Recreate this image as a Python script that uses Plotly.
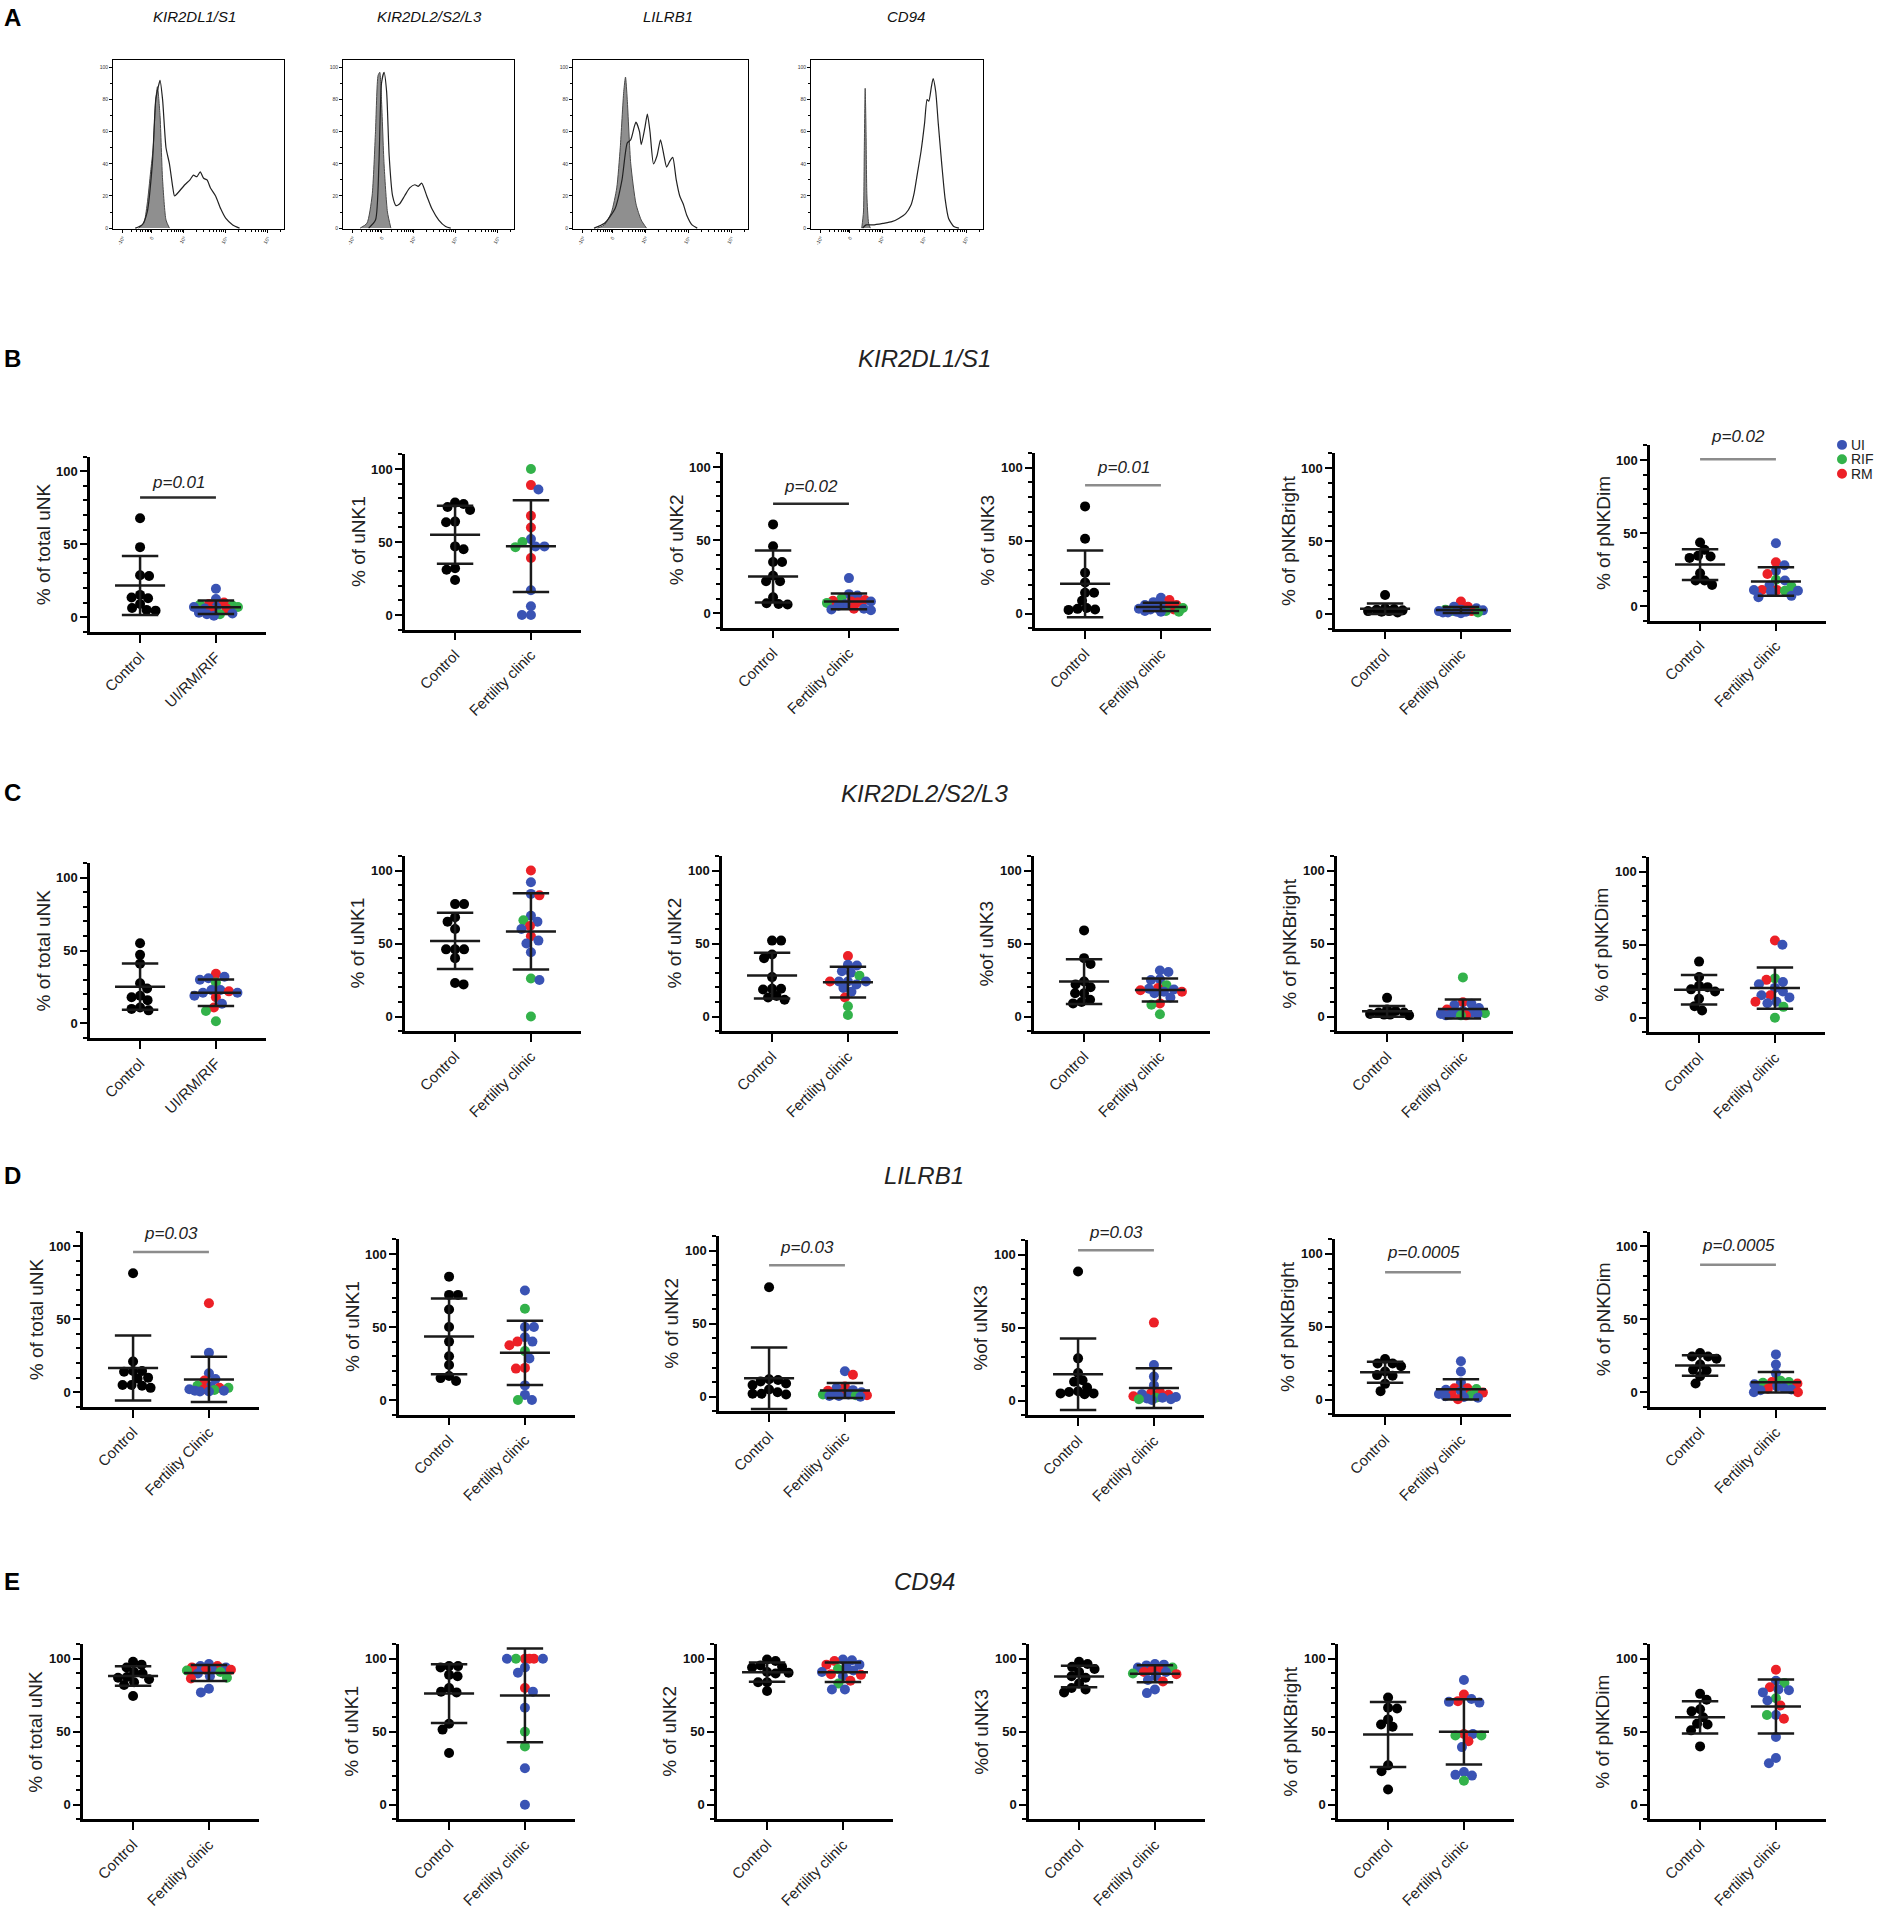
import math
import numpy as np
import plotly.graph_objects as go

W, H = 1877, 1909
FONT = "Arial, 'Liberation Sans', Helvetica, sans-serif"
BLUE, GREEN, RED = "#3a53b4", "#33b24a", "#ec2027"
GCOL = {"UI": BLUE, "RIF": GREEN, "RM": RED}
U, F, M = "UI", "RIF", "RM"

# ---------------- Panel A : flow histograms ----------------
HIST_TITLES = ["KIR2DL1/S1", "KIR2DL2/S2/L3", "LILRB1", "CD94"]
HIST_XTICK_POS = [0.057, 0.226, 0.415, 0.66, 0.906]
HIST_XTICK_TEXT = ["-10³", "0", "10³", "10⁴", "10⁵"]
HIST_YTICKS = [0, 20, 40, 60, 80, 100]

H1_iso_x = [0.15, 0.18, 0.20, 0.22, 0.235, 0.25, 0.26, 0.275, 0.29, 0.31, 0.33]
H1_iso_y = [0, 3, 15, 35, 50, 80, 88, 70, 30, 5, 0]
H1_stain_x = [0.13, 0.17, 0.20, 0.23, 0.25, 0.265, 0.275, 0.29, 0.31, 0.33, 0.35, 0.36, 0.38, 0.42,
              0.45, 0.47, 0.49, 0.51, 0.53, 0.55, 0.57, 0.60, 0.63, 0.66, 0.70, 0.74]
H1_stain_y = [0, 2, 10, 40, 80, 88, 92, 80, 50, 40, 25, 20, 22, 27, 30, 33, 32, 35, 31, 30, 25, 20,
              12, 6, 2, 0]

H2_iso_x = [0.10, 0.14, 0.17, 0.19, 0.205, 0.215, 0.225, 0.24, 0.26, 0.28]
H2_iso_y = [0, 3, 20, 60, 95, 97, 80, 40, 10, 0]
H2_stain_x = [0.15, 0.19, 0.21, 0.225, 0.24, 0.255, 0.27, 0.29, 0.31, 0.33, 0.36, 0.39, 0.42, 0.44,
              0.46, 0.49, 0.52, 0.56, 0.60, 0.63]
H2_stain_y = [0, 5, 40, 90, 97, 85, 45, 20, 14, 15, 20, 25, 27, 26, 28, 20, 12, 5, 1, 0]

H3_iso_x = [0.14, 0.18, 0.22, 0.25, 0.27, 0.29, 0.30, 0.31, 0.33, 0.36, 0.39, 0.42]
H3_iso_y = [0, 2, 10, 25, 50, 85, 94, 80, 40, 15, 5, 0]
H3_stain_x = [0.12, 0.18, 0.24, 0.28, 0.31, 0.33, 0.35, 0.36, 0.38, 0.39, 0.41, 0.425, 0.44, 0.46,
              0.48, 0.50, 0.52, 0.535, 0.555, 0.57, 0.59, 0.61, 0.63, 0.65, 0.68, 0.71]
H3_stain_y = [0, 3, 12, 30, 53, 55, 63, 66, 60, 52, 62, 71, 60, 40, 45, 55, 45, 38, 42, 44, 30, 20,
              15, 8, 2, 0]

H4_iso_x = [0.295, 0.305, 0.31, 0.315, 0.32, 0.325, 0.335, 0.345]
H4_iso_y = [0, 10, 50, 87, 60, 20, 3, 0]
H4_stain_x = [0.30, 0.32, 0.36, 0.42, 0.47, 0.51, 0.55, 0.58, 0.60, 0.62, 0.64, 0.66, 0.675, 0.685,
              0.70, 0.71, 0.725, 0.74, 0.76, 0.78, 0.80, 0.83, 0.86]
H4_stain_y = [0, 2, 2, 3, 4, 6, 9, 14, 22, 35, 48, 65, 80, 79, 88, 93, 85, 65, 40, 18, 6, 1, 0]

HIST_ISO = [(H1_iso_x, H1_iso_y), (H2_iso_x, H2_iso_y), (H3_iso_x, H3_iso_y), (H4_iso_x, H4_iso_y)]
HIST_STAIN = [(H1_stain_x, H1_stain_y), (H2_stain_x, H2_stain_y), (H3_stain_x, H3_stain_y),
              (H4_stain_x, H4_stain_y)]

# ---------------- Panels B-E : scatter dot plots ----------------
ROW_LETTERS = ["B", "C", "D", "E"]
ROW_TITLES = ["KIR2DL1/S1", "KIR2DL2/S2/L3", "LILRB1", "CD94"]
YTITLES = [
    ["% of total uNK", "% of uNK1", "% of uNK2", "% of uNK3", "% of pNKBright", "% of pNKDim"],
    ["% of total uNK", "% of uNK1", "% of uNK2", "%of uNK3", "% of pNKBright", "% of pNKDim"],
    ["% of total uNK", "% of uNK1", "% of uNK2", "%of uNK3", "% of pNKBright", "% of pNKDim"],
    ["% of total uNK", "% of uNK1", "% of uNK2", "%of uNK3", "% of pNKBright", "% of pNKDim"],
]
CATS_DEFAULT = ["Control", "Fertility clinic"]
CATS_FIRST = [["Control", "UI/RM/RIF"], ["Control", "UI/RM/RIF"],
              ["Control", "Fertility Clinic"], ["Control", "Fertility clinic"]]

# Row B : KIR2DL1/S1
B_tot_ctrl = [67.8, 48, 28.2, 28.8, 13, 13.5, 15.3, 9, 5, 4.5, 6.3]
B_tot_fert = [19.5, 12.5, 10, 9, 8.5, 8, 7, 7, 7, 6, 6, 5, 3, 2.5, 2, 2, 1]
B_tot_grp = [U, U, M, M, F, F, U, U, F, M, U, M, U, U, F, U, U]
B_unk1_ctrl = [77, 76, 74, 72, 64, 63.5, 47, 45, 32, 31, 24]
B_unk1_fert = [100, 89, 86, 68, 60, 52, 50, 47, 47, 46.5, 39, 17, 6, 0, 0]
B_unk1_grp = [F, M, U, M, M, U, F, U, U, F, M, U, U, U, U]
B_unk2_ctrl = [60.8, 45.8, 35, 35, 25.6, 21.8, 21.8, 10.9, 5.9, 6.3, 6.8]
B_unk2_fert = [24, 13, 12, 10, 9, 8.5, 8, 8, 7.5, 7, 6, 5, 3, 3, 2.5, 2]
B_unk2_grp = [U, U, U, F, M, M, M, U, M, F, U, U, U, M, U, U]
B_unk3_ctrl = [73.6, 51.4, 28.2, 21.4, 14.5, 14.5, 9, 4, 3.4, 2.7, 3]
B_unk3_fert = [11, 9.5, 8, 6, 6, 5.5, 5, 4, 4, 3.5, 3, 3, 2, 2, 1.5, 1.5]
B_unk3_grp = [U, M, U, M, U, U, M, U, F, U, U, M, F, U, F, U]
B_pbr_ctrl = [13, 4, 3.5, 3, 2.5, 2, 2, 1.5, 1]
B_pbr_fert = [8.5, 5, 5, 4, 3, 3, 2.5, 2, 2, 2, 1.5, 1.5, 1, 1, 1, 0.5]
B_pbr_grp = [M, M, U, U, F, U, U, U, M, F, U, U, F, U, U, U]
B_pdim_ctrl = [43.5, 38.5, 34, 33, 34.5, 22.5, 14.5, 17.5, 17.5]
B_pdim_fert = [43, 30, 28, 24, 22, 18, 17.5, 14, 13.5, 11, 11, 11, 10.5, 10.5, 10, 7, 6]
B_pdim_grp = [U, M, U, U, M, F, U, U, F, M, M, U, F, U, U, U, U]

# Row C : KIR2DL2/S2/L3
C_tot_ctrl = [55, 47, 41, 27.5, 24, 19, 18, 16, 11, 10, 9]
C_tot_fert = [34, 32, 31, 30, 28, 23, 23, 22, 21, 21, 19, 18, 13.5, 11, 8.5, 1.5]
C_tot_grp = [M, U, U, U, F, U, U, M, U, U, U, M, U, M, F, F]
C_unk1_ctrl = [77, 77, 68, 65, 60, 46, 46, 46, 40, 23, 22]
C_unk1_fert = [100, 92, 84, 83, 69, 66, 65, 62, 60, 55, 52, 50, 44, 26, 25, 0]
C_unk1_grp = [M, U, U, M, U, F, U, M, U, M, U, U, U, F, U, F]
C_unk2_ctrl = [52, 52, 42.5, 40, 27, 19, 19, 18.5, 14, 11.5, 13]
C_unk2_fert = [41.5, 35.5, 35, 31, 30, 28, 24, 24, 24, 24, 22, 19.5, 17, 13, 7, 1]
C_unk2_grp = [M, U, U, U, U, F, U, U, M, U, U, U, U, M, F, F]
C_unk3_ctrl = [59, 40, 36, 24, 22, 20, 16, 16, 11.5, 10, 9]
C_unk3_fert = [31.5, 30.5, 25.5, 25, 21.5, 19.5, 19, 18.5, 18, 17, 17, 16, 13, 9, 8, 1.5]
C_unk3_grp = [U, U, U, U, F, M, U, U, M, M, U, U, U, M, F, F]
C_pbr_ctrl = [13, 5, 4, 3, 3, 2, 1.5, 1.5, 1]
C_pbr_fert = [27, 10, 9, 8, 6, 5, 4, 3, 3, 2.5, 2, 2, 1.5, 1, 1, 1]
C_pbr_grp = [F, M, U, U, U, M, U, U, U, F, U, U, U, M, F, U]
C_pdim_ctrl = [38.5, 28, 22, 21, 19.5, 18, 13, 8, 5]
C_pdim_fert = [53, 50, 27, 26, 24.5, 23, 20.5, 18, 15.5, 15.5, 14, 11, 11, 10, 7.5, 0]
C_pdim_grp = [M, U, F, M, U, U, U, U, M, U, U, U, M, U, F, F]

# Row D : LILRB1
D_tot_ctrl = [81.5, 21, 14.5, 14.5, 14, 10, 9.5, 5, 5, 4.5, 3]
D_tot_fert = [61, 27, 13, 9, 8, 4.5, 4, 3, 3, 2, 2, 1.5, 1, 1, 0.5, 0.5]
D_tot_grp = [M, U, U, U, M, F, U, M, F, U, M, F, U, U, U, U]
D_unk1_ctrl = [84.5, 72, 72, 62, 50, 40, 30, 24, 16.5, 15, 13]
D_unk1_fert = [75, 62.5, 50, 50, 43, 40, 40, 37.5, 33.5, 28.5, 22, 21.5, 10, 3.5, 0, 0]
D_unk1_grp = [U, F, U, U, U, M, U, M, F, U, M, M, U, U, U, F]
D_unk2_ctrl = [75, 12, 11.5, 10.5, 9, 8, 5, 3, 2, 2, 1.5]
D_unk2_fert = [17.5, 15, 7, 6, 4.5, 4, 3, 2.5, 2, 1.5, 1.5, 1, 1, 0.5, 0.5, 0]
D_unk2_grp = [U, M, M, U, U, M, U, M, U, U, F, F, M, U, U, U]
D_unk3_ctrl = [88.5, 29, 19, 14, 13, 9, 6.5, 6, 5, 5, 4.5]
D_unk3_fert = [53.5, 24.5, 16.5, 10.5, 6, 5, 4.5, 4, 3, 2.5, 2, 2, 1.5, 1, 1, 0.5]
D_unk3_grp = [M, U, U, U, M, M, U, M, M, U, F, U, U, F, U, U]
D_pbr_ctrl = [28, 25, 25, 23, 19.5, 17, 16.5, 11, 6]
D_pbr_fert = [26.5, 19.5, 12, 8, 8, 7.5, 7, 6, 5, 4, 3, 3, 2.5, 2, 1.5, 0.5]
D_pbr_grp = [U, U, U, M, M, F, U, U, M, U, F, M, U, U, U, M]
D_pdim_ctrl = [27, 24.5, 24.5, 23, 19, 15.5, 15, 11, 6]
D_pdim_fert = [26, 19, 13, 8, 7, 7, 6.5, 6, 5.5, 4, 3, 2.5, 2, 1.5, 0, 0]
D_pdim_grp = [U, U, U, F, M, F, F, M, U, U, U, M, U, U, M, U]

# Row E : CD94
E_tot_ctrl = [98, 96, 94, 91, 90, 87.5, 87, 86, 84, 82, 74.5]
E_tot_fert = [96.5, 95, 95, 94, 94, 93, 92.5, 92.5, 92, 91, 90, 88, 87, 86.5, 79.5, 77]
E_tot_grp = [U, M, U, U, M, U, M, M, F, F, U, U, F, M, U, U]
E_unk1_ctrl = [95, 95, 94, 89, 88, 80, 77.5, 77, 55.5, 51.5, 35.5]
E_unk1_fert = [100, 100, 100, 100, 100, 100, 94, 90.5, 80, 77.5, 66.5, 50, 40, 25, 0]
E_unk1_grp = [M, M, F, U, U, M, U, U, M, U, U, F, F, U, U]
E_unk2_ctrl = [99.5, 98.5, 95.5, 94.5, 94, 91, 90.5, 90, 84, 84, 78]
E_unk2_fert = [99.5, 99, 98.5, 96, 96, 94.5, 93, 92, 91, 89.5, 89, 88, 85, 83, 79, 79]
E_unk2_grp = [U, U, M, U, M, U, F, U, U, M, M, U, M, F, U, U]
E_unk3_ctrl = [98, 96.5, 94.5, 93, 91, 88, 87, 83, 80, 79, 77]
E_unk3_fert = [96.5, 96, 95.5, 94, 94, 92.5, 92, 91, 91, 90, 89.5, 88, 85.5, 84.5, 79, 76.5]
E_unk3_grp = [U, U, U, U, F, M, M, U, M, F, M, U, U, M, U, U]
E_pbr_ctrl = [73.5, 66.5, 66, 58.5, 55, 53.5, 27, 23, 10.5]
E_pbr_fert = [85.5, 75.5, 72.5, 71, 70.5, 70, 48.5, 48.5, 47.5, 47.5, 43.5, 39.5, 22.5, 20.5, 20, 16.5]
E_pbr_grp = [U, M, U, M, U, U, M, U, F, F, M, U, U, U, U, F]
E_pdim_ctrl = [76, 72, 65.5, 64, 60, 55.5, 55, 51, 40]
E_pdim_fert = [92.5, 85, 83.5, 80.5, 79, 78.5, 77, 73, 71.5, 68, 61.5, 61.5, 59, 46.5, 32, 28.5]
E_pdim_grp = [M, U, F, M, U, U, U, F, U, M, U, F, M, U, U, U]

CTRL = [[B_tot_ctrl, B_unk1_ctrl, B_unk2_ctrl, B_unk3_ctrl, B_pbr_ctrl, B_pdim_ctrl],
        [C_tot_ctrl, C_unk1_ctrl, C_unk2_ctrl, C_unk3_ctrl, C_pbr_ctrl, C_pdim_ctrl],
        [D_tot_ctrl, D_unk1_ctrl, D_unk2_ctrl, D_unk3_ctrl, D_pbr_ctrl, D_pdim_ctrl],
        [E_tot_ctrl, E_unk1_ctrl, E_unk2_ctrl, E_unk3_ctrl, E_pbr_ctrl, E_pdim_ctrl]]
FERT = [[B_tot_fert, B_unk1_fert, B_unk2_fert, B_unk3_fert, B_pbr_fert, B_pdim_fert],
        [C_tot_fert, C_unk1_fert, C_unk2_fert, C_unk3_fert, C_pbr_fert, C_pdim_fert],
        [D_tot_fert, D_unk1_fert, D_unk2_fert, D_unk3_fert, D_pbr_fert, D_pdim_fert],
        [E_tot_fert, E_unk1_fert, E_unk2_fert, E_unk3_fert, E_pbr_fert, E_pdim_fert]]
GRPS = [[B_tot_grp, B_unk1_grp, B_unk2_grp, B_unk3_grp, B_pbr_grp, B_pdim_grp],
        [C_tot_grp, C_unk1_grp, C_unk2_grp, C_unk3_grp, C_pbr_grp, C_pdim_grp],
        [D_tot_grp, D_unk1_grp, D_unk2_grp, D_unk3_grp, D_pbr_grp, D_pdim_grp],
        [E_tot_grp, E_unk1_grp, E_unk2_grp, E_unk3_grp, E_pbr_grp, E_pdim_grp]]

# significance annotations: (row, col) -> (text, bar value, text value, bar colour)
PVALS = {
    (0, 0): ("p=0.01", 82, 92.5, "#2a2a2a"),
    (0, 2): ("p=0.02", 75, 87, "#2a2a2a"),
    (0, 3): ("p=0.01", 88, 100, "#8c8c8c"),
    (0, 5): ("p=0.02", 100.5, 116.5, "#8c8c8c"),
    (2, 0): ("p=0.03", 96, 108.5, "#8c8c8c"),
    (2, 2): ("p=0.03", 90, 102, "#8c8c8c"),
    (2, 3): ("p=0.03", 103, 115.5, "#8c8c8c"),
    (2, 4): ("p=0.0005", 87.4, 101, "#8c8c8c"),
    (2, 5): ("p=0.0005", 87.4, 100.5, "#8c8c8c"),
}

# ---------------- layout geometry (pixels) ----------------
COL_X = [[90, 405, 723, 1035, 1335, 1650],
         [90, 405, 722, 1034, 1337, 1649],
         [83, 399, 719, 1028, 1335, 1650],
         [83, 399, 717, 1029, 1338, 1650]]
ROW_BOTTOM = [[634.8, 632.6, 630.7, 631.4, 631.6, 623.6],
              [1043, 1036, 1036, 1036, 1036.3, 1037.3],
              [1413.5, 1421.3, 1418, 1422, 1421.2, 1413.6],
              [1828, 1828, 1828, 1828, 1828, 1828]]
PW, PH = 176, 176
XR = [-0.66, 1.66]
YR = [-10, 110]
HIST_X = [(113, 284), (343, 514), (573, 748), (811, 983)]
HIST_Y = (60, 230)
HIST_TITLE_X = [194, 429, 668, 906]


def px_x(p):
    return p / W


def px_y(p):
    return 1 - p / H


def swarm(vals, sx, sy, d=8.6, step=0.5, maxoff=22.0):
    """Spread points sideways (pixels) so that they overlap little, within +/- maxoff."""
    order = sorted(range(len(vals)), key=lambda i: -vals[i])
    placed = []
    out = [0.0] * len(vals)
    n = int(maxoff / step)
    for i in order:
        yv = vals[i] * sy
        pos = sum(1 for p in placed if p[0] > 0.1)
        neg = sum(1 for p in placed if p[0] < -0.1)
        sgn = 1 if pos <= neg else -1
        cands = [0.0]
        for k in range(1, n + 1):
            cands += [sgn * k * step, -sgn * k * step]
        best, bestd = 0.0, -1.0
        for c in cands:
            md = min((math.hypot(c - a, yv - b) for a, b in placed), default=1e9)
            if md >= d:
                best = c
                break
            if md > bestd + 0.3:
                bestd, best = md, c
        placed.append((best, yv))
        out[i] = best / sx
    return out


fig = go.Figure()
layout = {}
annotations = []
shapes = []
axn = 0


def axnames(n):
    return ("x" if n == 1 else f"x{n}", "y" if n == 1 else f"y{n}",
            "xaxis" if n == 1 else f"xaxis{n}", "yaxis" if n == 1 else f"yaxis{n}")


# ---- scatter panels ----
sx = PW / (XR[1] - XR[0])
sy = PH / (YR[1] - YR[0])
for r in range(4):
    for c in range(6):
        axn += 1
        xa, ya, xk, yk = axnames(axn)
        x0 = COL_X[r][c]
        yb = ROW_BOTTOM[r][c]
        cats = CATS_FIRST[r] if c == 0 else CATS_DEFAULT
        layout[xk] = dict(
            domain=[px_x(x0), px_x(x0 + PW)], anchor=ya, range=XR,
            tickmode="array", tickvals=[0, 1], ticktext=cats, tickangle=-45,
            ticks="outside", ticklen=8, tickwidth=2, tickcolor="black",
            showline=True, linewidth=2.5, linecolor="black",
            showgrid=False, zeroline=False, fixedrange=True,
            tickfont=dict(family=FONT, size=15, color="#222"),
        )
        layout[yk] = dict(
            domain=[px_y(yb), px_y(yb - PH)], anchor=xa, range=YR,
            tickmode="array", tickvals=[0, 50, 100],
            ticks="outside", ticklen=7, tickwidth=2, tickcolor="black",
            showline=True, linewidth=2.5, linecolor="black",
            showgrid=False, zeroline=False, fixedrange=True,
            tickfont=dict(family=FONT, size=13, color="#111", weight="bold"),
            minor=dict(tickmode="array", tickvals=list(range(-10, 111, 10)),
                       ticks="outside", ticklen=4, tickwidth=1.5, tickcolor="black"),
        )
        ctrl = CTRL[r][c]
        fert = FERT[r][c]
        grp = GRPS[r][c]
        oc = swarm(ctrl, sx, sy)
        of = swarm(fert, sx, sy)
        fig.add_trace(go.Scatter(
            x=[0 + o for o in oc], y=ctrl, mode="markers", xaxis=xa, yaxis=ya,
            marker=dict(size=10, color="black", line=dict(width=0)),
            showlegend=False, hoverinfo="skip", cliponaxis=False))
        fig.add_trace(go.Scatter(
            x=[1 + o for o in of], y=fert, mode="markers", xaxis=xa, yaxis=ya,
            marker=dict(size=10, color=[GCOL[g] for g in grp], line=dict(width=0)),
            showlegend=False, hoverinfo="skip", cliponaxis=False))
        # mean +/- SD
        lx, ly = [], []
        for cx, vals in ((0, ctrl), (1, fert)):
            m = float(np.mean(vals))
            s = float(np.std(vals, ddof=1))
            lx += [cx - 0.33, cx + 0.33, None, cx, cx, None,
                   cx - 0.24, cx + 0.24, None, cx - 0.24, cx + 0.24, None]
            ly += [m, m, None, m - s, m + s, None, m + s, m + s, None, m - s, m - s, None]
        fig.add_trace(go.Scatter(
            x=lx, y=ly, mode="lines", xaxis=xa, yaxis=ya,
            line=dict(color="#1a1a1a", width=2.5), showlegend=False, hoverinfo="skip"))
        # significance bar
        if (r, c) in PVALS:
            txt, bar_v, txt_v, bcol = PVALS[(r, c)]
            fig.add_trace(go.Scatter(
                x=[0, 1], y=[bar_v, bar_v], mode="lines", xaxis=xa, yaxis=ya,
                line=dict(color=bcol, width=2.5), showlegend=False, hoverinfo="skip"))
            ty = yb - (txt_v - YR[0]) * sy
            annotations.append(dict(
                x=px_x(x0 + (0.5 - XR[0]) * sx), y=px_y(ty), xref="paper", yref="paper",
                text=f"<i>{txt}</i>", showarrow=False,
                font=dict(family=FONT, size=17, color="#222"), xanchor="center", yanchor="middle"))
        # y-axis title
        annotations.append(dict(
            x=px_x(x0 - 47), y=px_y(yb - PH / 2), xref="paper", yref="paper",
            text=YTITLES[r][c], textangle=-90, showarrow=False,
            font=dict(family=FONT, size=19, color="#222"), xanchor="center", yanchor="middle"))

# ---- histogram panels ----
minor_x = []
for a, b in ((0.057, 0.226), (0.226, 0.415)):
    for m in range(2, 10):
        minor_x.append(a + (b - a) * np.log10(m))
for p in (0.415, 0.66, 0.906):
    for m in range(2, 10):
        v = p + 0.245 * np.log10(m)
        if v < 1:
            minor_x.append(float(v))

for k in range(4):
    axn += 1
    xa, ya, xk, yk = axnames(axn)
    x0, x1 = HIST_X[k]
    layout[xk] = dict(
        domain=[px_x(x0), px_x(x1)], anchor=ya, range=[0, 1],
        tickmode="array", tickvals=HIST_XTICK_POS, ticktext=HIST_XTICK_TEXT, tickangle=-60,
        ticks="outside", ticklen=3, tickwidth=1, tickcolor="black",
        showline=True, mirror=True, linewidth=1.3, linecolor="black",
        showgrid=False, zeroline=False, fixedrange=True,
        tickfont=dict(family=FONT, size=5, color="#333"),
        minor=dict(tickmode="array", tickvals=minor_x, ticks="outside", ticklen=2,
                   tickwidth=0.8, tickcolor="black"),
    )
    layout[yk] = dict(
        domain=[px_y(HIST_Y[1]), px_y(HIST_Y[0])], anchor=xa, range=[-0.5, 104.8],
        tickmode="array", tickvals=HIST_YTICKS,
        ticks="outside", ticklen=3, tickwidth=1, tickcolor="black",
        showline=True, mirror=True, linewidth=1, linecolor="black",
        showgrid=False, zeroline=False, fixedrange=True,
        tickfont=dict(family=FONT, size=5, color="#333"),
        minor=dict(tickmode="array", tickvals=list(range(0, 101, 10)), ticks="outside",
                   ticklen=2, tickwidth=0.8, tickcolor="black"),
    )
    ix, iy = HIST_ISO[k]
    stx, sty = HIST_STAIN[k]
    fig.add_trace(go.Scatter(
        x=ix, y=iy, mode="lines", fill="tozeroy", fillcolor="#8f8f8f",
        line=dict(color="#4a4a4a", width=1, shape="spline", smoothing=0.6),
        xaxis=xa, yaxis=ya, showlegend=False, hoverinfo="skip"))
    fig.add_trace(go.Scatter(
        x=stx, y=sty, mode="lines",
        line=dict(color="#222", width=1.2, shape="spline", smoothing=0.6),
        xaxis=xa, yaxis=ya, showlegend=False, hoverinfo="skip"))
    annotations.append(dict(
        x=px_x(HIST_TITLE_X[k]), y=px_y(17), xref="paper", yref="paper",
        text=f"<i>{HIST_TITLES[k]}</i>", showarrow=False,
        font=dict(family=FONT, size=15, color="#111"), xanchor="center", yanchor="middle"))

# ---- panel letters and row titles ----
LETTER_Y = [18, 360, 796, 1181, 1589]
for lab, yy in zip(["A"] + ROW_LETTERS, LETTER_Y):
    annotations.append(dict(
        x=px_x(2), y=px_y(yy), xref="paper", yref="paper", text=f"<b>{lab}</b>",
        showarrow=False, font=dict(family=FONT, size=24, color="#000"),
        xanchor="left", yanchor="middle"))
ROW_TITLE_Y = [360, 797, 1181, 1589]
for t, yy in zip(ROW_TITLES, ROW_TITLE_Y):
    annotations.append(dict(
        x=px_x(924), y=px_y(yy), xref="paper", yref="paper", text=f"<i>{t}</i>",
        showarrow=False, font=dict(family=FONT, size=24, color="#222"),
        xanchor="center", yanchor="middle"))

# ---- group legend ----
LEGEND_NAMES = ["UI", "RIF", "RM"]
LEGEND_Y = [447, 461.5, 476]
for name, yy in zip(LEGEND_NAMES, LEGEND_Y):
    shapes.append(dict(type="circle", xref="paper", yref="paper",
                       x0=px_x(1837), x1=px_x(1847), y0=px_y(yy + 5), y1=px_y(yy - 5),
                       fillcolor=GCOL[name], line=dict(width=0)))
    annotations.append(dict(
        x=px_x(1849), y=px_y(yy), xref="paper", yref="paper", text=name, showarrow=False,
        font=dict(family=FONT, size=14, color="#222"), xanchor="left", yanchor="middle"))

fig.update_layout(
    width=W, height=H, margin=dict(l=0, r=0, t=0, b=0),
    paper_bgcolor="white", plot_bgcolor="rgba(0,0,0,0)",
    showlegend=False, annotations=annotations, shapes=shapes,
    font=dict(family=FONT), **layout)

fig.write_html("out.html", config={"displayModeBar": False},
               post_script="document.body.style.margin='0';")
